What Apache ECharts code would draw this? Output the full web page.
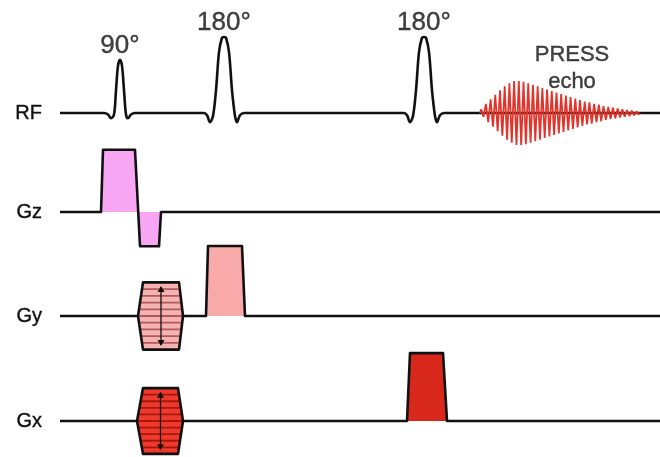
<!DOCTYPE html>
<html>
<head>
<meta charset="utf-8">
<title>PRESS sequence</title>
<script src="https://cdn.jsdelivr.net/npm/echarts@6/dist/echarts.min.js"></script>
<style>
  html, body { margin: 0; padding: 0; background: #fff; }
  #chart { width: 660px; height: 457px; }
</style>
</head>
<body>
<div id="chart"></div>
<script>
// Channel rows of the timing diagram (top to bottom)
const channels = ['RF', 'Gz', 'Gy', 'Gx'];
const timeMax = 600;

// RF pulses: centre times, flip angles, and sampled lobe shapes [offset, amplitude]
const pulseCenters = [60, 164, 364];
const flipAngles = ['90°', '180°', '180°'];
const pulsePeaks = [0.70, 1.0, 1.0];
const shape90 = [[-16, 0], [-12, -0.02], [-9, -0.07], [-6, -0.02], [-4, 0.3], [-2, 0.62], [0, 0.70],
                 [2, 0.62], [4, 0.3], [6, -0.02], [8, -0.07], [11, -0.02], [15, 0]];
const shape180 = [[-20, 0], [-17, -0.03], [-14, -0.12], [-11, -0.04], [-8, 0.3], [-5, 0.8], [-2, 0.99], [0, 1.0],
                  [2, 0.99], [5, 0.8], [8, 0.3], [11, -0.04], [13, -0.12], [16, -0.03], [20, 0]];
const pulseShapes = [shape90, shape180, shape180];

// PRESS echo: start/end times and amplitude of each oscillation cycle
const echoStart = 420;
const echoEnd = 580;
const echoEnvelope = [0.05, 0.12, 0.18, 0.24, 0.30, 0.35, 0.39, 0.42,
                      0.42, 0.41, 0.39, 0.37, 0.35, 0.33, 0.31, 0.29, 0.27, 0.25, 0.23, 0.21,
                      0.19, 0.17, 0.15, 0.14, 0.12, 0.11, 0.09, 0.08, 0.07, 0.06, 0.05, 0.04, 0.03, 0.02];
const echoText = 'PRESS\necho';
const echoTextAt = [512, 0.2];

// Gradient waveforms [time, amplitude]
const gzWave = [[0, 0], [41, 0], [43, 0.89], [75, 0.89], [80, -0.49], [99, -0.49], [101, 0], [600, 0]];
const gyWave = [[0, 0], [146, 0], [148, 1.0], [182, 1.0], [185, 0], [600, 0]];
const gxWave = [[0, 0], [347, 0], [350, 0.97], [383, 0.97], [387, 0], [600, 0]];

// Phase-encoding tables: [start, top start, top end, end, max amplitude]
const gyTable = [78, 83, 119, 123, 0.48];
const gxTable = [77, 83, 118, 123, 0.47];
const phaseSteps = [-0.8, -0.6, -0.4, -0.2, 0, 0.2, 0.4, 0.6, 0.8];

// ---- build traces ----
const rfTrace = [[0, 0]];
pulseCenters.forEach((c, i) => {
  pulseShapes[i].forEach(([dt, a]) => rfTrace.push([c + dt, a]));
});
rfTrace.push([timeMax, 0]);

const period = (echoEnd - echoStart) / echoEnvelope.length;
const echoTrace = [[echoStart, 0]];
echoEnvelope.forEach((a, i) => {
  echoTrace.push([echoStart + (i + 0.25) * period, a]);
  echoTrace.push([echoStart + (i + 0.75) * period, -a]);
});
echoTrace.push([echoEnd, 0]);

const INK = '#111111';
const FONT = '"Liberation Sans", Arial, sans-serif';
const textInk = { color: INK, textBorderColor: INK, textBorderWidth: 0.4, fontFamily: FONT };

// Row boxes: RF spans -1..1, gradient rows span -0.5..1
const gridBoxes = [
  { top: 37, height: 152, min: -1, max: 1, interval: 1 },
  { top: 142, height: 105, min: -0.5, max: 1, interval: 0.5 },
  { top: 246, height: 105, min: -0.5, max: 1, interval: 0.5 },
  { top: 351, height: 105, min: -0.5, max: 1, interval: 0.5 }
];

function tableSeries(gridIndex, table, fill, stripe) {
  return {
    type: 'custom',
    xAxisIndex: gridIndex,
    yAxisIndex: gridIndex,
    z: 5,
    clip: false,
    data: [table],
    renderItem: function (params, api) {
      const t0 = api.value(0), t1 = api.value(1), t2 = api.value(2), t3 = api.value(3), a = api.value(4);
      const poly = [api.coord([t0, 0]), api.coord([t1, a]), api.coord([t2, a]),
                    api.coord([t3, 0]), api.coord([t2, -a]), api.coord([t1, -a])];
      const children = [{
        type: 'polygon',
        shape: { points: poly },
        style: { fill: fill, stroke: null }
      }];
      phaseSteps.forEach(s => {
        const f = Math.abs(s);
        const l = api.coord([t0 + (t1 - t0) * f, s * a]);
        const r = api.coord([t3 - (t3 - t2) * f, s * a]);
        children.push({
          type: 'line',
          shape: { x1: l[0] + 1, y1: l[1], x2: r[0] - 1, y2: r[1] },
          style: { stroke: stripe, lineWidth: 1.8 }
        });
      });
      // double arrow marking the stepped amplitude range
      const tm = (t1 + t2) / 2;
      const top = api.coord([tm, a * 0.86]);
      const bot = api.coord([tm, -a * 0.86]);
      children.push({
        type: 'line',
        shape: { x1: top[0], y1: top[1], x2: bot[0], y2: bot[1] },
        style: { stroke: INK, lineWidth: 1.3 }
      });
      children.push({
        type: 'polygon',
        shape: { points: [[top[0], top[1] - 1], [top[0] - 3.5, top[1] + 5], [top[0] + 3.5, top[1] + 5]] },
        style: { fill: INK }
      });
      children.push({
        type: 'polygon',
        shape: { points: [[bot[0], bot[1] + 1], [bot[0] - 3.5, bot[1] - 5], [bot[0] + 3.5, bot[1] - 5]] },
        style: { fill: INK }
      });
      children.push({
        type: 'polygon',
        shape: { points: poly },
        style: { fill: null, stroke: INK, lineWidth: 2.6, lineJoin: 'round' }
      });
      return { type: 'group', children: children };
    }
  };
}

function waveSeries(gridIndex, data, fill) {
  return {
    type: 'line',
    xAxisIndex: gridIndex,
    yAxisIndex: gridIndex,
    data: data,
    symbol: 'none',
    clip: false,
    z: 3,
    lineStyle: { color: INK, width: 2.6, join: 'round' },
    areaStyle: { color: fill, opacity: 1, origin: 0 }
  };
}

const option = {
  animation: false,
  backgroundColor: '#ffffff',
  grid: gridBoxes.map(b => ({ left: 60, right: 0, top: b.top, height: b.height })),
  xAxis: channels.map((_, i) => ({
    type: 'value', gridIndex: i, min: 0, max: timeMax, show: false
  })),
  yAxis: channels.map((name, i) => ({
    type: 'value', gridIndex: i,
    min: gridBoxes[i].min, max: gridBoxes[i].max, interval: gridBoxes[i].interval,
    axisLine: { show: false }, axisTick: { show: false }, splitLine: { show: false },
    axisLabel: Object.assign({
      show: true, margin: 18, fontSize: 20,
      showMinLabel: true, showMaxLabel: true,
      formatter: v => (v === 0 ? name : '')
    }, textInk)
  })),
  series: [
    {
      type: 'line',
      xAxisIndex: 0, yAxisIndex: 0,
      data: rfTrace,
      symbol: 'none',
      smooth: 0.35,
      clip: false,
      z: 3,
      lineStyle: { color: INK, width: 2.6 }
    },
    {
      type: 'line',
      xAxisIndex: 0, yAxisIndex: 0,
      data: echoTrace,
      symbol: 'none',
      clip: false,
      z: 4,
      lineStyle: { color: '#e3342b', width: 1.8 }
    },
    {
      type: 'scatter',
      xAxisIndex: 0, yAxisIndex: 0,
      symbolSize: 0,
      z: 6,
      data: pulseCenters.map((c, i) => ({ value: [c, pulsePeaks[i]], name: flipAngles[i] })),
      label: Object.assign({
        show: true, position: 'top', distance: 1,
        formatter: p => p.name,
        fontSize: 26
      }, textInk)
    },
    {
      type: 'scatter',
      xAxisIndex: 0, yAxisIndex: 0,
      symbolSize: 0,
      z: 6,
      data: [{ value: echoTextAt, name: echoText }],
      label: Object.assign({
        show: true, position: 'top', distance: 2,
        formatter: p => p.name,
        fontSize: 22, lineHeight: 27, align: 'center'
      }, textInk)
    },
    waveSeries(1, gzWave, '#f6a6f3'),
    waveSeries(2, gyWave, '#f8a9a9'),
    waveSeries(3, gxWave, '#d8281c'),
    tableSeries(2, gyTable, '#f4b2b2', '#b05a5a'),
    tableSeries(3, gxTable, '#ee3a2c', '#a8170f')
  ]
};

const chart = echarts.init(document.getElementById('chart'), null, { renderer: 'canvas' });
chart.setOption(option);
</script>
</body>
</html>
